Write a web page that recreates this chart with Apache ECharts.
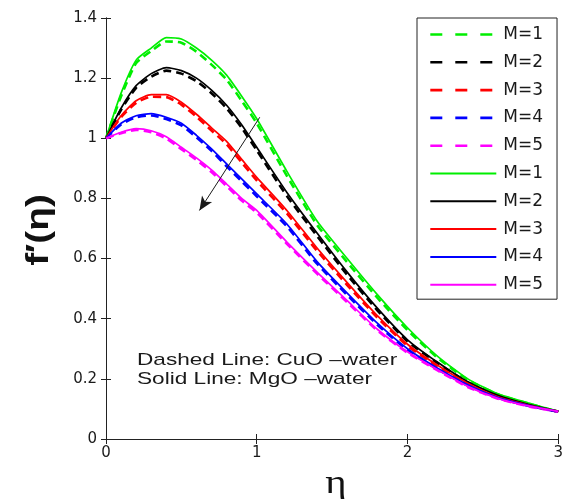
<!DOCTYPE html>
<html>
<head>
<meta charset="utf-8">
<script src="https://cdn.jsdelivr.net/npm/echarts@6/dist/echarts.min.js"></script>
<style>html,body{margin:0;padding:0;background:#fff;}#chart{width:566px;height:499px;}</style>
</head>
<body>
<div id="chart"></div>
<script>
// ---- data ----
const eta = [0, 0.1, 0.2, 0.3, 0.4, 0.5, 0.6, 0.7, 0.8, 0.9, 1.0, 1.2, 1.4, 1.6, 1.8, 2.0, 2.2, 2.4, 2.6, 2.8, 3.0];

// Dashed lines: CuO-water
const cuoM1 = [1.00, 1.14, 1.25, 1.29, 1.322, 1.318, 1.288, 1.245, 1.195, 1.125, 1.05, 0.875, 0.712, 0.588, 0.47, 0.362, 0.27, 0.197, 0.148, 0.118, 0.091];
const cuoM2 = [1.00, 1.095, 1.168, 1.205, 1.225, 1.215, 1.19, 1.15, 1.10, 1.035, 0.96, 0.808, 0.675, 0.546, 0.428, 0.325, 0.252, 0.188, 0.143, 0.114, 0.091];
const cuoM3 = [1.00, 1.07, 1.118, 1.138, 1.137, 1.112, 1.072, 1.026, 0.98, 0.92, 0.86, 0.75, 0.626, 0.512, 0.404, 0.31, 0.241, 0.182, 0.138, 0.112, 0.091];
const cuoM4 = [1.00, 1.046, 1.07, 1.076, 1.064, 1.043, 1.003, 0.958, 0.907, 0.857, 0.807, 0.707, 0.583, 0.479, 0.38, 0.296, 0.232, 0.178, 0.137, 0.111, 0.091];
const cuoM5 = [1.00, 1.017, 1.028, 1.02, 0.999, 0.964, 0.928, 0.888, 0.841, 0.793, 0.753, 0.649, 0.55, 0.455, 0.361, 0.287, 0.228, 0.173, 0.134, 0.109, 0.091];

// Solid lines: MgO-water
const mgoM1 = [1.00, 1.15, 1.26, 1.30, 1.335, 1.33, 1.30, 1.26, 1.21, 1.14, 1.065, 0.89, 0.725, 0.60, 0.48, 0.37, 0.275, 0.20, 0.15, 0.12, 0.092];
const mgoM2 = [1.00, 1.10, 1.175, 1.215, 1.235, 1.225, 1.20, 1.16, 1.11, 1.045, 0.97, 0.82, 0.685, 0.555, 0.435, 0.33, 0.255, 0.19, 0.145, 0.115, 0.092];
const mgoM3 = [1.00, 1.075, 1.125, 1.145, 1.145, 1.12, 1.08, 1.035, 0.99, 0.93, 0.87, 0.76, 0.635, 0.52, 0.41, 0.315, 0.245, 0.185, 0.14, 0.113, 0.092];
const mgoM4 = [1.00, 1.05, 1.075, 1.082, 1.07, 1.05, 1.01, 0.965, 0.915, 0.865, 0.815, 0.715, 0.59, 0.485, 0.385, 0.30, 0.235, 0.18, 0.138, 0.112, 0.092];
const mgoM5 = [1.00, 1.02, 1.032, 1.025, 1.005, 0.97, 0.935, 0.895, 0.848, 0.80, 0.76, 0.655, 0.555, 0.46, 0.365, 0.29, 0.23, 0.175, 0.135, 0.11, 0.092];

const legendLabels = ['M=1', 'M=2', 'M=3', 'M=4', 'M=5'];
const lineColors = ['#00ee00', '#000000', '#ff0000', '#0000ff', '#ff00ff'];
const xTickLabels = ['0', '1', '2', '3'];
const yTickLabels = ['0', '0.2', '0.4', '0.6', '0.8', '1', '1.2', '1.4'];
const arrowStart = [1.02, 1.07];
const arrowEnd = [0.62, 0.76];
const noteLines = ['Dashed Line: CuO \u2013water', 'Solid Line: MgO \u2013water'];
const xName = '\u03b7';
const yName = 'f\u2032(\u03b7)';

// ---- chart ----
const chart = echarts.init(document.getElementById('chart'), null, {renderer: 'canvas'});
const toPairs = arr => eta.map((x, i) => [x, arr[i]]);
const cuo = [cuoM1, cuoM2, cuoM3, cuoM4, cuoM5];
const mgo = [mgoM1, mgoM2, mgoM3, mgoM4, mgoM5];

const series = [];
const legendData = [];
cuo.forEach((arr, k) => {
  const name = legendLabels[k] + '|CuO';
  series.push({
    name, type: 'line', data: toPairs(arr), symbol: 'none', smooth: 0.2,
    lineStyle: {color: lineColors[k], width: 2.6, type: [8, 5]},
    itemStyle: {color: lineColors[k]}, z: 2
  });
  legendData.push({name, itemStyle: {opacity: 0}, lineStyle: {type: [12, 13], width: 2.6}});
});
mgo.forEach((arr, k) => {
  const name = legendLabels[k] + '|MgO';
  series.push({
    name, type: 'line', data: toPairs(arr), symbol: 'none', smooth: 0.2,
    lineStyle: {color: lineColors[k], width: 1.7, type: 'solid'},
    itemStyle: {color: lineColors[k]}, z: 3
  });
  legendData.push({name, itemStyle: {opacity: 0}});
});
series[0].markLine = {
  silent: true, symbol: ['none', 'arrow'], symbolSize: [9, 14], animation: false,
  label: {show: false},
  lineStyle: {color: '#1a1a1a', width: 1, type: 'solid'},
  data: [[{coord: arrowStart}, {coord: arrowEnd}]]
};

const axisColor = '#222';
const tickFont = {fontFamily: 'DejaVu Sans', fontSize: 15, color: '#1a1a1a'};
const option = {
  animation: false,
  backgroundColor: '#fff',
  grid: {left: 106, right: 6, top: 18, bottom: 60, containLabel: false},
  xAxis: [
    {type: 'value', min: 0, max: 3, interval: 1, position: 'bottom',
     axisLine: {lineStyle: {color: axisColor}}, axisTick: {inside: true, length: 5, lineStyle: {color: axisColor}},
     axisLabel: Object.assign({margin: 7, formatter: (v) => xTickLabels[Math.round(v)]}, tickFont),
     splitLine: {show: false}},
    {type: 'value', min: 0, max: 3, interval: 1, position: 'top',
     axisLine: {lineStyle: {color: axisColor}}, axisTick: {inside: true, length: 5, lineStyle: {color: axisColor}},
     axisLabel: {show: false}, splitLine: {show: false}}
  ],
  yAxis: [
    {type: 'value', min: 0, max: 1.4, interval: 0.2, position: 'left',
     axisLine: {show: true, lineStyle: {color: axisColor}}, axisTick: {show: true, inside: true, length: 5, lineStyle: {color: axisColor}},
     axisLabel: Object.assign({margin: 9, formatter: (v) => yTickLabels[Math.round(v / 0.2)]}, tickFont),
     splitLine: {show: false}},
    {type: 'value', min: 0, max: 1.4, interval: 0.2, position: 'right',
     axisLine: {show: true, lineStyle: {color: axisColor}}, axisTick: {show: true, inside: true, length: 5, lineStyle: {color: axisColor}},
     axisLabel: {show: false}, splitLine: {show: false}}
  ],
  legend: {
    orient: 'vertical', left: 417, top: 18,
    padding: [8, 14, 6, 12],
    itemWidth: 66, itemHeight: 14, itemGap: 10.8,
    backgroundColor: '#fff', borderColor: '#222', borderWidth: 1,
    itemStyle: {opacity: 0},
    data: legendData,
    formatter: (n) => n.split('|')[0],
    textStyle: {fontFamily: 'DejaVu Sans', fontSize: 17, color: '#1a1a1a', padding: [0, 0, 0, 2]},
    selectedMode: false
  },
  graphic: [
    {type: 'text', left: 137, top: 352, scaleX: 1.33,
     style: {text: noteLines[0], font: '17px "Liberation Sans"', fill: '#1a1a1a'}},
    {type: 'text', left: 137, top: 371, scaleX: 1.33,
     style: {text: noteLines[1], font: '17px "Liberation Sans"', fill: '#1a1a1a'}},
    {type: 'text', x: 39, y: 230, rotation: Math.PI / 2, scaleX: 1.25,
     style: {text: yName, font: 'bold 31px "Liberation Sans"', fill: '#111', align: 'center', verticalAlign: 'middle'}},
    {type: 'text', x: 336, y: 484, scaleX: 1.2,
     style: {text: xName, font: '34px "Liberation Serif"', fill: '#111', align: 'center', verticalAlign: 'middle'}}
  ],
  series
};
chart.setOption(option);
</script>
</body>
</html>
